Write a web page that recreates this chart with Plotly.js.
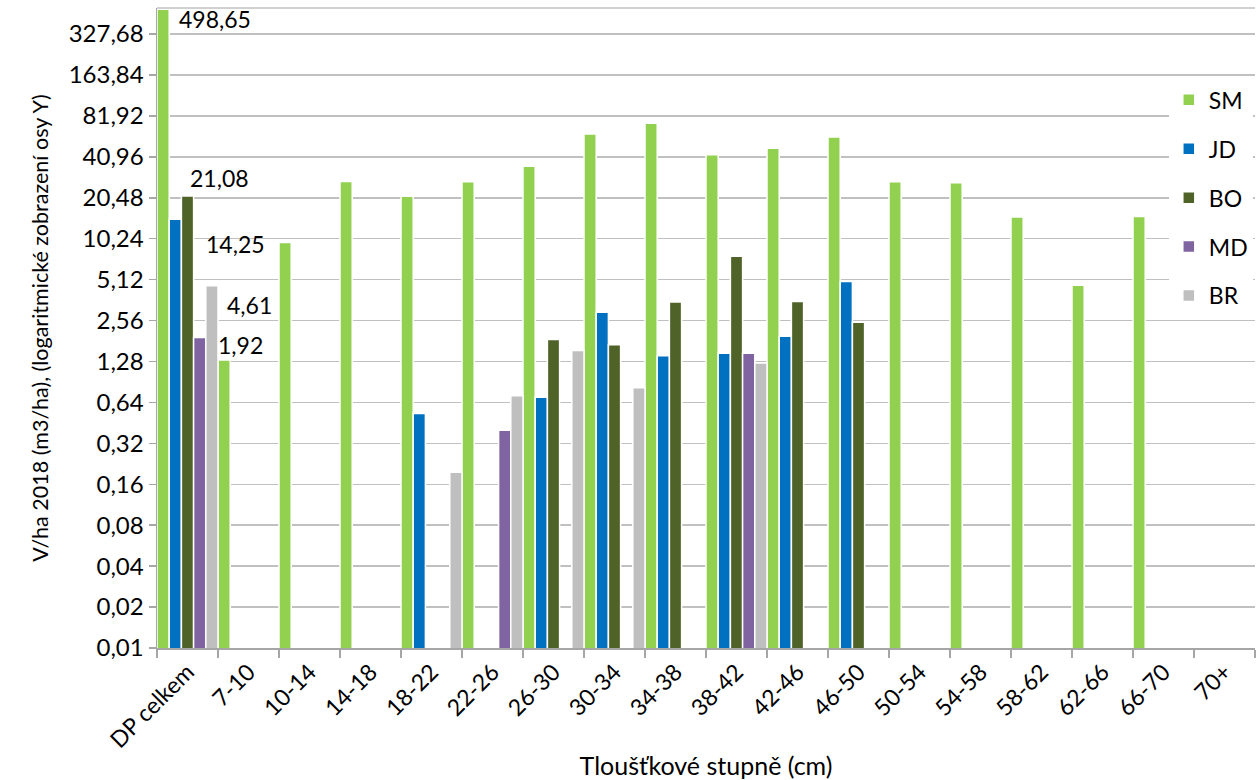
<!DOCTYPE html>
<html>
<head>
<meta charset="utf-8">
<script src="https://cdn.plot.ly/plotly-3.0.1.min.js"></script>
<style>
  html, body { margin: 0; padding: 0; background: #ffffff; }
  #chart { width: 1259px; height: 780px; }
</style>
</head>
<body>
<div id="chart"></div>
<script>
const categories = ["DP celkem","7-10","10-14","14-18","18-22","22-26","26-30","30-34","34-38","38-42","42-46","46-50","50-54","54-58","58-62","62-66","66-70","70+"];
const seriesNames = ["SM","JD","BO","MD","BR"];
const SM = [498.65, 1.31, 9.6, 27.0, 21.0, 26.9, 34.9, 60.2, 72.2, 42.4, 47.4, 57.2, 26.9, 26.4, 14.8, 4.65, 14.9, null];
const JD = [14.25, null, null, null, 0.53, null, 0.70, 2.95, 1.41, 1.47, 1.96, 4.95, null, null, null, null, null, null];
const BO = [21.08, null, null, null, null, null, 1.86, 1.70, 3.50, 7.6, 3.54, 2.49, null, null, null, null, null, null];
const MD = [1.92, null, null, null, null, 0.40, null, null, null, 1.47, null, null, null, null, null, null, null, null];
const BR = [4.61, null, null, null, 0.196, 0.717, 1.54, 0.82, null, 1.25, null, null, null, null, null, null, null, null];
const seriesValues = [SM, JD, BO, MD, BR];
const seriesColors = ["#92d050", "#0070c0", "#4f6228", "#8064a2", "#bfbfbf"];

const tickValues = [0.01, 0.02, 0.04, 0.08, 0.16, 0.32, 0.64, 1.28, 2.56, 5.12, 10.24, 20.48, 40.96, 81.92, 163.84, 327.68];
const tickLabels = ["0,01","0,02","0,04","0,08","0,16","0,32","0,64","1,28","2,56","5,12","10,24","20,48","40,96","81,92","163,84","327,68"];

// data labels for the "DP celkem" group: [series index, label text, x offset (category units), y shift px]
const labelSeries = [0, 2, 1, 4, 3];
const labelTexts = ["498,65", "21,08", "14,25", "4,61", "1,92"];
const labelXOffsets = [-0.17, 0.0, 0.27, 0.61, 0.47];
const labelYShifts = [-10, 18, -25, -19, -7];

const FONT = "Lato, 'Open Sans', sans-serif";

const traces = seriesNames.map((name, i) => ({
  type: "bar",
  name: name,
  x: categories,
  y: seriesValues[i],
  legendgroup: name,
  marker: { color: seriesColors[i], line: { color: "#ffffff", width: 1.5 } },
  hoverinfo: "x+y+name"
}));

const annotations = labelSeries.map((s, k) => ({
  x: 0 + labelXOffsets[k],
  y: Math.log10(seriesValues[s][0]),
  xref: "x", yref: "y",
  text: labelTexts[k],
  showarrow: false,
  xanchor: "left",
  yanchor: "middle",
  yshift: labelYShifts[k],
  font: { family: FONT, size: 23, color: "#000000" }
}));

const layout = {
  width: 1259,
  height: 780,
  margin: { l: 157, r: 4, t: 8, b: 132 },
  paper_bgcolor: "#ffffff",
  plot_bgcolor: "#ffffff",
  font: { family: FONT, size: 22, color: "#000000" },
  barmode: "group",
  bargap: 0,
  bargroupgap: 0,
  showlegend: true,
  legend: {
    x: 0.9215, xanchor: "left",
    y: 0.89, yanchor: "top",
    bgcolor: "#ffffff",
    font: { family: FONT, size: 23, color: "#000000" },
    tracegroupgap: 16,
    itemclick: false
  },
  xaxis: {
    type: "category",
    tickangle: -45,
    ticks: "outside",
    tickson: "boundaries",
    ticklen: 8,
    tickcolor: "#a6a6a6",
    tickwidth: 1.5,
    showline: true,
    linecolor: "#a6a6a6",
    linewidth: 1.5,
    showgrid: false,
    tickfont: { family: FONT, size: 23, color: "#000000" },
    title: { text: "Tloušťkové stupně (cm)", font: { family: FONT, size: 25, color: "#000000" }, standoff: 10 }
  },
  yaxis: {
    type: "log",
    range: [-2, 2.707],
    tickvals: tickValues,
    ticktext: tickLabels,
    ticks: "outside",
    ticklen: 7,
    tickcolor: "#a6a6a6",
    tickwidth: 1.5,
    showline: true,
    linecolor: "#a6a6a6",
    linewidth: 1.5,
    showgrid: true,
    gridcolor: "#c0c0c0",
    gridwidth: 1.5,
    zeroline: false,
    tickfont: { family: FONT, size: 24, color: "#000000" },
    title: { text: "V/ha 2018 (m3/ha), (logaritmické zobrazení osy Y)", font: { family: FONT, size: 21.5, color: "#000000" }, standoff: 14 }
  },
  shapes: [
    { type: "line", xref: "paper", yref: "paper", x0: 0, x1: 1, y0: 1, y1: 1, line: { color: "#c0c0c0", width: 1.5 } }
  ],
  annotations: annotations
};

Plotly.newPlot("chart", traces, layout, { displayModeBar: false, staticPlot: true });
</script>
</body>
</html>
